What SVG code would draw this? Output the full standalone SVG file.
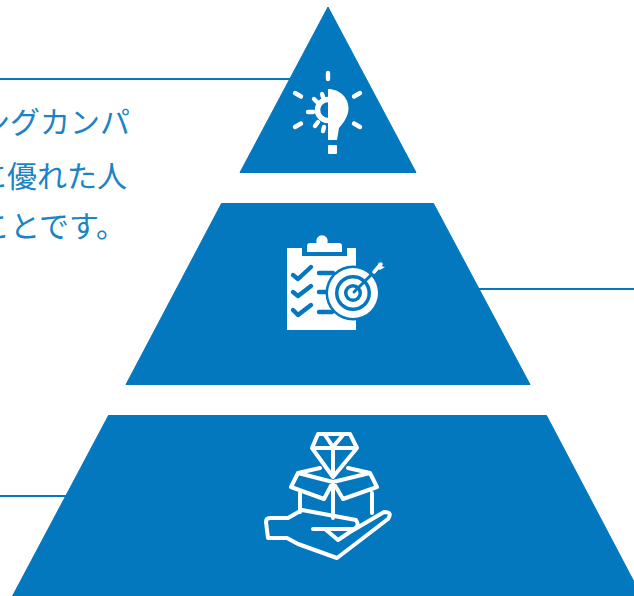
<svg xmlns="http://www.w3.org/2000/svg" width="634" height="596" viewBox="0 0 634 596">
<style>
.b{fill:#0378bf;stroke:#0378bf;stroke-width:1;stroke-linejoin:round}
.l{stroke:#0378bf;stroke-width:2;fill:none}
.t{font-family:"Noto Sans CJK JP","Noto Sans",sans-serif;font-size:30px;font-weight:400;fill:#1b84c4}
.w{fill:none;stroke:#fff;stroke-width:4;stroke-linecap:round;stroke-linejoin:round}
.k{fill:none;stroke:#0378bf;stroke-width:4.400;stroke-linecap:round;stroke-linejoin:round}
</style>
<rect width="634" height="596" fill="#fff"/>
<g id="connectors">
<line class="l" x1="0" y1="79" x2="292" y2="79"/>
<line class="l" x1="478" y1="289" x2="634" y2="289"/>
<line class="l" x1="0" y1="496" x2="68" y2="496"/>
</g>
<g id="text">
<text class="t" x="-20" y="133">ングカンパ</text>
<text class="t" x="-23" y="187">に優れた人</text>
<text class="t" x="-20" y="237">ことです。</text>
</g>
<g id="top">
<polygon class="b" points="328,7 240,172.500 416,172.500"/>
<path class="w" style="stroke-width:4.400" d="M328 73V79M295 93L301 96.500M360 93L354 96.500M295 127L301 123.500M360 127L354 123.500"/>
<path fill="#fff" d="M328 89C340 89 348.500 98 348.500 108C348.500 116 344 122 339 128L337 140H328Z"/>
<path fill="none" stroke="#fff" stroke-width="5.500" d="M328 99.500A10.500 10.500 0 0 0 328 120.500"/>
<path class="w" style="stroke-width:4.400" d="M322 94L323 97M314 99L318 103M308 112H313M315 126L318 122M323 131L324 127"/>
<rect x="328" y="145" width="9" height="9" rx="1" fill="#fff"/>
</g>
<g id="middle">
<polygon class="b" points="221.500,203.500 433.500,203.500 530,384.500 126,384.500"/>
<rect x="287" y="248" width="69" height="82" fill="#fff"/>
<path fill="#0378bf" d="M302 248V256H347V248Z"/>
<path fill="#fff" d="M307 252V246Q307 243 310 243H316.500A5.800 5.800 0 1 1 327.500 243H339Q342 243 342 246V252Z"/>
<path class="k" d="M293 275L298 279L311 267M293 292L298 296L311 286M293 310L298 315L311 305M319 273H333M319 292H327M319 312H332"/>
<circle cx="353" cy="293" r="27.500" fill="#0378bf"/>
<circle cx="353" cy="293" r="25" fill="#fff"/>
<circle cx="353" cy="293" r="18" fill="#0378bf"/>
<circle cx="353" cy="293" r="14.500" fill="#fff"/>
<circle cx="353" cy="293" r="9" fill="#0378bf"/>
<circle cx="353" cy="293" r="5.500" fill="#fff"/>
<path fill="none" stroke="#0378bf" stroke-width="3" stroke-linecap="round" d="M354 292L372 274"/>
<path fill="none" stroke="#fff" stroke-width="3.500" stroke-linecap="round" d="M374 272L381 264"/>
<path fill="#fff" d="M377 268L379 262L381 266L385 267L380 270Z"/>
</g>
<g id="bottom">
<polygon class="b" points="108.500,415.500 546.500,415.500 642,597 12,597"/>
<path class="w" d="M318 434H350L357 448L333 477L312 448ZM312 448H357M325 435L333 447L343 435M333 448V477"/>
<path class="w" d="M320 468L298 473L291 487L324 499L333 482L343 499L377 487L370 473L348 468M298 473L333 482L370 473M300 493V512M372 493V513M333 482V518"/>
<path class="w" d="M313 529H354Q360 526 356 520L302 510L288 518H270Q266 518 266 522L268 538H287L298 544L337 558L388 519Q393 512 384 512L350 532L338 540L325 529"/>
</g>
</svg>
